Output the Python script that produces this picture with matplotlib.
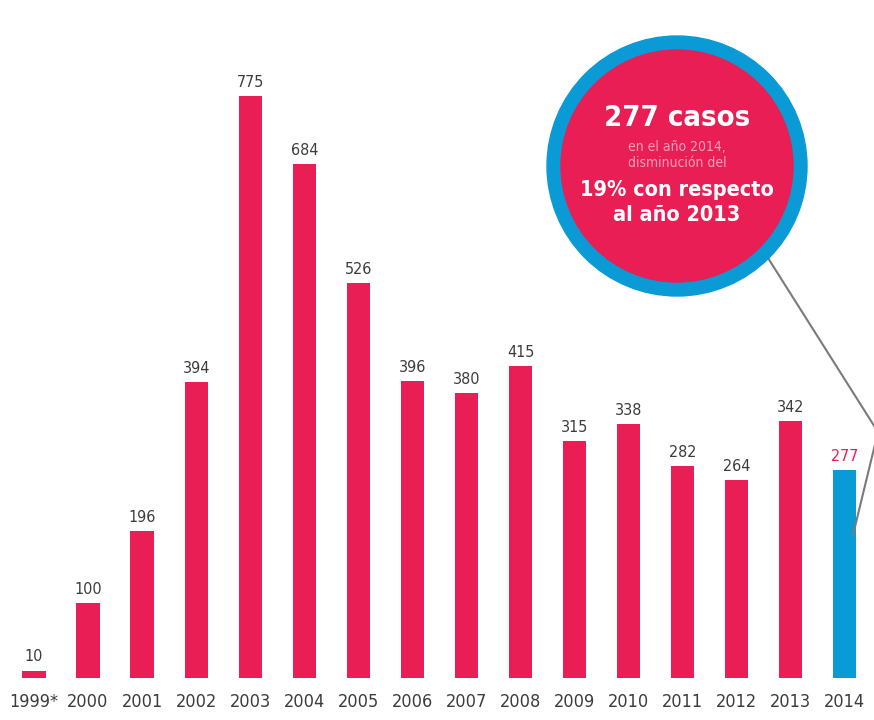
import matplotlib
matplotlib.use('Agg')
import matplotlib.pyplot as plt
from matplotlib.patches import Circle
import numpy as np

years = ['1999*', '2000', '2001', '2002', '2003', '2004', '2005', '2006',
         '2007', '2008', '2009', '2010', '2011', '2012', '2013', '2014']
casos = [10, 100, 196, 394, 775, 684, 526, 396, 380, 415, 315, 338, 282, 264, 342, 277]

PINK = '#E81E54'
BLUE = '#0A9BD6'
GREY = '#3c3c3c'

fig = plt.figure(figsize=(8.74, 7.2), dpi=100)
ax = fig.add_axes([0, 0, 1, 1])

x = np.arange(len(years))
colors = [PINK] * (len(years) - 1) + [BLUE]
ax.bar(x, casos, width=0.43, color=colors, zorder=2)

for i, v in enumerate(casos):
    c = PINK if i == len(casos) - 1 else GREY
    ax.text(i, v + 8, str(v), ha='center', va='bottom', fontsize=11.5,
            color=c, fontstretch='condensed')
    ax.text(i, -32, years[i], ha='center', va='center', fontsize=13,
            color=GREY, fontstretch='condensed')

ax.set_xlim(-0.629, 15.54)
ax.set_ylim(-55.9, 902.8)
ax.axis('off')

# callout bubble drawn in pixel coordinates
ov = fig.add_axes([0, 0, 1, 1])
ov.set_xlim(0, 874)
ov.set_ylim(720, 0)
ov.axis('off')
ov.patch.set_alpha(0)

ov.plot([768, 878, 853], [258, 432, 535], color='#7a7a7a', lw=1.5,
        zorder=1, clip_on=False)
ov.add_patch(Circle((677, 166), 130, color=BLUE, zorder=2))
ov.add_patch(Circle((677, 166), 116, color=PINK, zorder=3))

ov.text(677, 118, '277 casos', ha='center', va='center', fontsize=21,
        fontweight='bold', color='white', fontstretch='condensed', zorder=4)
ov.text(677, 147, 'en el año 2014,', ha='center', va='center', fontsize=10,
        color='#f5a0bb', fontstretch='condensed', zorder=4)
ov.text(677, 163, 'disminución del', ha='center', va='center', fontsize=10,
        color='#f5a0bb', fontstretch='condensed', zorder=4)
ov.text(677, 190, '19% con respecto', ha='center', va='center', fontsize=15.5,
        fontweight='bold', color='white', fontstretch='condensed', zorder=4)
ov.text(677, 215, 'al año 2013', ha='center', va='center', fontsize=15.5,
        fontweight='bold', color='white', fontstretch='condensed', zorder=4)

fig.savefig('out.png', dpi=100)
